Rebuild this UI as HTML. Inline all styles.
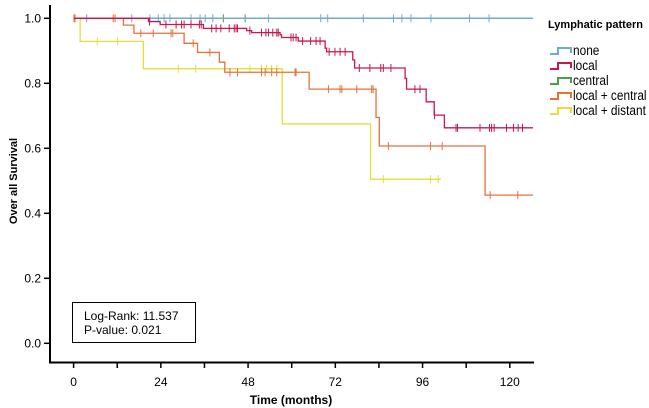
<!DOCTYPE html>
<html><head><meta charset="utf-8"><style>
body{margin:0;background:#fff;}
svg{display:block;font-family:"Liberation Sans",Arial,sans-serif;}
</style></head><body>
<svg id="chart" width="649" height="408"></svg>
<script>
const groups=["none","local","central","local + central","local + distant"];
const colors=["#6fa8dc","#c8174a","#4e9a4e","#e8703a","#e6dc3a"];
// step events: [month, survival after drop]
const stepsNone=[];
const stepsLocal=[[20.6,0.990],[23.8,0.981],[35.7,0.969],[47.6,0.962],[49,0.956],[56.8,0.949],[57.2,0.941],[61.8,0.930],[69.2,0.908],[69.6,0.897],[76.8,0.872],[77.3,0.847],[91.2,0.815],[91.6,0.782],[97,0.743],[99.2,0.702],[102,0.663]];
const stepsCentral=[];
const stepsLC=[[13.7,0.979],[16.6,0.954],[30.4,0.923],[34.1,0.895],[40.1,0.865],[41.6,0.834],[64.8,0.782],[83.2,0.695],[84.1,0.607],[113.2,0.456]];
const stepsLD=[[1.8,0.929],[19.2,0.845],[57.4,0.675],[81.7,0.505]];
const endNone=126.4, endLocal=126.4, endCentral=126.4, endLC=126.4, endLD=101;
const censNone=[3.6,16,21,23.3,24.9,26.5,32.3,34.8,36.2,38.3,53.6,68,69.9,79.7,88,90.3,92.8,98.3,108.9,114.3];
const censLocal=[20.9,25.4,28.2,29.7,30.4,32.3,34.6,35.1,38,39.2,40.5,42.8,44.2,44.7,45.1,48.5,51.7,52.9,53.6,54.8,55.9,56.3,59.8,60.4,61.2,63,65.2,66.7,67.8,70.3,71.9,73.3,74.7,78.6,81.5,84.5,85.2,87.3,93.9,95.3,99.3,105.2,105.6,111.8,114.4,115,115.7,119.1,121,122.3,123.5];
const censCentral=[41.2,47.2];
const censLC=[0.1,0.4,10.9,11.4,18.5,21.9,26.8,27.3,32.9,37.5,43,45.1,51.7,52.7,54.5,55.9,60.9,61.2,70.1,73.3,73.8,77.9,82,82.4,86.6,98.2,101.4,114.6,122.2];
const censLD=[6.5,12.1,28.8,33.6,48.5,51.7,53.1,54.5,55.9,85.2,98.2,100.3];
const xTicks=[0,12,24,36,48,60,72,84,96,108,120];
const xLabels=["0","","24","","48","","72","","96","","120"];
const yTicks=[0,0.2,0.4,0.6,0.8,1.0];
const yLabels=["0.0","0.2","0.4","0.6","0.8","1.0"];

const NS="http://www.w3.org/2000/svg";
const svg=document.getElementById('chart');
const X=m=>73.6+m*3.635;
const Y=s=>343.3-s*325;
function mk(tag,attrs,parent){const e=document.createElementNS(NS,tag);for(const k in attrs)e.setAttribute(k,attrs[k]);(parent||svg).appendChild(e);return e;}

let ax=mk('line',{x1:50,y1:5,x2:50,y2:362.5,stroke:'#000','stroke-width':2});


ax=mk('line',{x1:49,y1:362.5,x2:534,y2:362.5,stroke:'#000','stroke-width':2});


xTicks.forEach((t,i)=>{
  const l=mk('line',{x1:X(t),y1:362,x2:X(t),y2:368,stroke:'#000','stroke-width':1.5});
  
  
  if(xLabels[i]){const tx=mk('text',{x:X(t),y:386,'text-anchor':'middle','font-size':12});tx.textContent=xLabels[i];
  
  }
});
yTicks.forEach((t,i)=>{
  const l=mk('line',{x1:44,y1:Y(t),x2:50,y2:Y(t),stroke:'#000','stroke-width':1.5});
  
  
  const tx=mk('text',{x:41,y:Y(t)+4,'text-anchor':'end','font-size':12});tx.textContent=yLabels[i];
  
  
});
let t=mk('text',{x:291,y:404,'text-anchor':'middle','font-size':12,'font-weight':'bold'});t.textContent='Time (months)';


t=mk('text',{x:0,y:0,'text-anchor':'middle','font-size':11,'font-weight':'bold',transform:'translate(17,181) rotate(-90)'});t.textContent='Over all Survival';



const series=[
 [stepsCentral,endCentral,censCentral,2],
 [stepsNone,endNone,censNone,0],
 [stepsLD,endLD,censLD,4],
 [stepsLC,endLC,censLC,3],
 [stepsLocal,endLocal,censLocal,1]];
function survAt(steps,m){let s=1;steps.forEach(p=>{if(p[0]<=m)s=p[1];});return s;}
series.forEach(([steps,end,cens,ci])=>{
  let d='M'+X(0)+','+Y(1);
  steps.forEach(p=>{d+=' H'+X(p[0])+' V'+Y(p[1]);});
  d+=' H'+X(end);
  const g=mk('g',{});
  
  
  const p=mk('path',{d:d,fill:'none',stroke:colors[ci],'stroke-width':1.3},g);
  
  
  cens.forEach(c=>{const y=Y(survAt(steps,c));
    const l=mk('line',{x1:X(c),y1:y-4,x2:X(c),y2:y+4,stroke:colors[ci],'stroke-width':1},g);
    
    });
});

t=mk('text',{x:548,y:28,'font-size':11,'font-weight':'bold'});t.textContent='Lymphatic pattern';


const legY=[55,70,85,100,115];
groups.forEach((gname,i)=>{
  const g=mk('g',{});
  
  
  const y=legY[i];
  mk('path',{d:`M550,${y-1} H558 V${y-7} H571 V${y-2}`,fill:'none',stroke:colors[i],'stroke-width':2},g);
  const tx=mk('text',{x:0,y:0,'font-size':13.5,transform:`translate(573,${y}) scale(0.88,1)`},g);tx.textContent=gname;
});

const box=mk('g',{});


mk('rect',{x:72.5,y:302.5,width:123,height:40,fill:'#fff',stroke:'#000','stroke-width':1},box);
let bt=mk('text',{x:84,y:320,'font-size':12},box);bt.textContent='Log-Rank: 11.537';
bt=mk('text',{x:84,y:334,'font-size':12},box);bt.textContent='P-value: 0.021';
</script>
</body></html>
